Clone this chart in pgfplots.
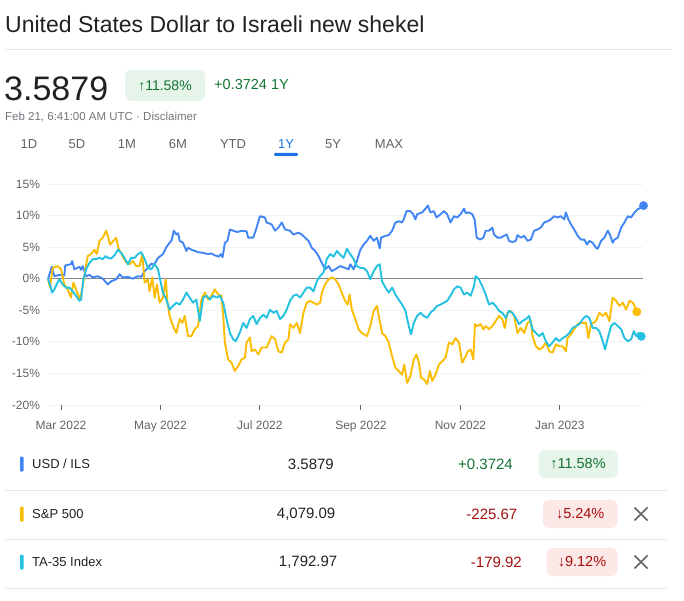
\documentclass[border=0pt]{standalone}
\usepackage{pgfplots}
\pgfplotsset{compat=1.18}
\usepackage{fontspec}
\setmainfont{Liberation Sans}
\definecolor{gblue}{HTML}{4285F4}
\definecolor{gyellow}{HTML}{FBBC04}
\definecolor{gcyan}{HTML}{24C1E0}
\definecolor{gtext}{HTML}{202124}
\definecolor{ggrey}{HTML}{5F6368}
\definecolor{glightgrey}{HTML}{70757A}
\definecolor{gline}{HTML}{E3E5E8}
\definecolor{ggrid}{HTML}{F1F3F4}
\definecolor{gzero}{HTML}{80868B}
\definecolor{ggreen}{HTML}{137333}
\definecolor{ggreenbg}{HTML}{E6F4EA}
\definecolor{gred}{HTML}{A50E0E}
\definecolor{gredbg}{HTML}{FCE8E6}
\definecolor{gtab}{HTML}{1A73E8}
\begin{document}
\begin{tikzpicture}
\useasboundingbox (0,0) rectangle (684pt,600pt);
% header
\node[anchor=base west, inner sep=0, text=gtext, font=\fontsize{23}{27}\selectfont] at (5pt,567pt) {United States Dollar to Israeli new shekel};
\draw[gline, line width=0.8pt] (5pt,551pt) -- (672pt,551pt);
\node[anchor=base west, inner sep=0, text=gtext, font=\fontsize{34}{40}\selectfont] at (4pt,499pt) {3.5879};
\fill[ggreenbg, rounded corners=6pt] (125pt,499pt) rectangle (205pt,530pt);
\node[text=ggreen, font=\fontsize{14}{16}\selectfont] at (165pt,514.5pt) {↑11.58\%};
\node[anchor=west, inner sep=0, text=ggreen, font=\fontsize{14.5}{16}\selectfont] at (214pt,515pt) {+0.3724 1Y};
\node[anchor=west, inner sep=0, text=glightgrey, font=\fontsize{11.5}{14}\selectfont] at (5pt,483pt) {Feb 21, 6:41:00 AM UTC · Disclaimer};
\foreach \lab/\xx in {1D/29,5D/77,1M/127,6M/178,YTD/233,5Y/333,MAX/389}{
  \node[text=ggrey, font=\fontsize{13}{15}\selectfont] at (\xx pt,456pt) {\lab};
}
\node[text=gtab, font=\fontsize{13}{15}\selectfont] at (286pt,456pt) {1Y};
\fill[gtab, rounded corners=1.2pt] (274pt,444pt) rectangle (298pt,447pt);

% chart
\begin{axis}[
  at={(48pt,195pt)}, anchor=south west, scale only axis,
  width=595pt, height=221pt,
  xmin=0, xmax=365, ymin=-20, ymax=15,
  axis line style={draw=none},
  ytick={-20,-15,-10,-5,0,5,10,15},
  yticklabels={-20\%,-15\%,-10\%,-5\%,0\%,5\%,10\%,15\%},
  ymajorgrids, grid style={ggrid, line width=0.9pt},
  xtick={8,69,130,192,253,314},
  xticklabels={Mar 2022,May 2022,Jul 2022,Sep 2022,Nov 2022,Jan 2023},
  tick align=outside, major tick length=4.5pt,
  xtick pos=left, ytick pos=left,
  ytick style={draw=none},
  xtick style={draw=ggrey, line width=1pt},
  ticklabel style={font=\fontsize{12}{14}\selectfont, text=ggrey},
  xticklabel style={anchor=north, yshift=-8pt, text height=8.7pt, text depth=0pt},
  clip=false,
]
\draw[gzero, line width=0.9pt] (axis cs:0,0) -- (axis cs:365,0);
\addplot[gblue, line width=1.9pt, line join=round] coordinates {
(0,0) (2.4,1.9) (3.9,0.4) (7,0.6) (10,0.5) (10.6,2.1) (14.1,2.3) (14.8,2.8) (16.2,1.5)
(19.3,1.9) (20.3,1.4) (21.3,2.0) (23.4,0.4) (25.5,0.6) (27.5,0.2) (30.5,0.4) (33.6,0)
(36.7,-0.9) (38.8,-0.4) (41.8,-0.1) (43.9,0.7) (45.9,0.2) (49,0.3) (52.1,0) (55.2,0.4)
(57.2,0.3) (59.3,1.2) (61.3,1.7) (63.4,2.4) (65,2.2) (67.5,3.3) (70.5,3.9) (72.6,5.0)
(74,5.5) (75.7,6.0) (77.2,7.6) (78.8,7.0) (79.8,7.2) (80.8,6.0) (82.8,5.7) (84.9,4.4)
(85.9,4.9) (88,4.6) (90,4.4) (92.1,4.2) (95.2,4.1) (98.2,3.9) (100.3,4.0) (102.3,3.7)
(104.8,3.5) (106,3.9) (107.1,3.4) (108.5,5.7) (110.1,6.0) (111.6,7.8) (113.6,7.6)
(116,7.4) (119,7.6) (121.8,7.5) (122.8,6.5) (125.9,6.5) (128,8.1) (130,9.9) (133.1,9.7)
(134.1,8.9) (137.2,8.6) (139.3,7.6) (141.3,8.1) (143.4,8.9) (145.4,7.8) (148.5,7.6)
(150.5,7.0) (153.6,7.3) (155.7,7.0) (157.7,6.5) (159.8,6.0) (161.8,4.9) (163.9,4.4)
(165.9,3.6) (168,2.5) (170,1.5) (172.1,2.0) (174.1,1.2) (176.2,1.5) (179.2,2.0)
(182.3,1.7) (184.4,1.5) (185.4,2.3) (187.5,1.5) (189.5,2.8) (191.6,4.6) (193.6,5.4)
(195.7,6.0) (197.7,6.8) (199.8,6.0) (201.8,6.5) (203.5,4.8) (204.3,6.5) (207,6.8)
(209,6.9) (211.1,7.6) (213.1,8.9) (215.1,9.1) (217.2,8.9) (218.2,9.4) (219.9,10.7)
(222.3,10.7) (224,10.2) (225.4,9.4) (226.4,10.2) (229.5,10.5) (231.6,11.1) (233,11.6)
(234.6,10.5) (236.7,10.7) (238.3,9.7) (240.8,10.2) (242.8,10.7) (244.9,10.2) (246.9,8.9)
(249,9.9) (251,9.7) (253.1,10.2) (255.2,11.1) (256.2,10.4) (258.2,10.5) (260.3,10.2)
(261.7,9.4) (263,6.5) (265,6.2) (267.1,6.5) (268.5,7.6) (270.5,7.6) (272.6,8.1)
(273.6,7.0) (275.7,6.5) (277.7,6.5) (279.8,6.8) (281.4,7.0) (282.8,6.0) (284.9,5.8)
(286.9,6.0) (288,6.9) (290,6.5) (292.1,6.8) (294.1,6.0) (296.2,6.2) (298.2,7.6)
(300.3,7.8) (302.3,8.1) (304.4,8.9) (306.4,9.1) (308.5,9.4) (310.5,9.9) (312.6,9.7)
(314.6,9.9) (316.7,9.4) (317.7,10.5) (319.2,9.4) (320.8,8.6) (322.8,7.8) (324.9,6.8)
(326.9,6.2) (329,6.2) (330.6,5.4) (332.1,6.0) (334.1,5.7) (336.2,4.9) (337.2,4.75)
(339.3,6.0) (341.3,6.5) (343.4,7.6) (345,6.8) (346.4,5.7) (347.5,6.2) (349.5,6.5)
(351.6,8.1) (353.6,8.9) (355.7,9.9) (357.7,9.7) (359.8,10.5) (361.8,11.0) (363.9,11.3)
(365.3,11.58)
};
\addplot[gyellow, line width=1.9pt, line join=round] coordinates {
(0,0) (1.2,-1.4) (2.9,1.7) (5.9,2.0) (8,1.5) (10,-0.9) (12.1,-1.7) (14.1,-3.0) (15.6,-0.6)
(17.6,-2.0) (19.7,-3.3) (21.7,-0.6) (22.9,1.5) (24.4,3.6) (26.4,3.9) (28.5,4.6) (29.9,3.9)
(31.6,6.0) (33.6,6.5) (35.7,7.6) (36.7,6.8) (38.1,5.4) (39.8,5.9) (41.8,6.5) (43.5,4.6)
(44.9,4.1) (46.3,3.3) (48,2.6) (50,2.3) (52.1,2.8) (54.1,2.0) (56.2,2.0) (57.8,3.9)
(59.3,-0.6) (61.3,-0.1) (62.3,-2.0) (64,0.2) (65.4,-3.0) (66.8,-0.9) (68.5,-3.8)
(70.5,-3.0) (72.2,-0.1) (73.2,-3.5) (74.6,-5.9) (76.7,-7.5) (78.7,-8.6) (80.8,-6.4)
(82.4,-7.0) (83.9,-5.9) (85.9,-9.1) (88,-9.1) (90,-8.0) (92.1,-7.5) (94.1,-3.3)
(96.2,-2.2) (98.2,-3.3) (100.3,-2.7) (102.3,-1.7) (104.4,-2.5) (106.4,-2.7) (107.5,-5.9)
(108.5,-10.1) (110.5,-12.8) (112.6,-13.3) (114.6,-14.6) (116.7,-13.8) (118.7,-12.8)
(120.8,-12.5) (121.8,-10.1) (123.9,-9.3) (124.9,-11.5) (126.9,-11.2) (129,-12.0)
(131,-10.9) (134.1,-10.9) (137.2,-9.1) (139.3,-9.6) (141.3,-11.5) (143.4,-11.7)
(145.4,-10.1) (147.5,-9.6) (148.5,-7.2) (150.5,-7.8) (152.6,-7.0) (154.6,-8.6)
(156.7,-5.4) (158.7,-3.8) (160.8,-3.5) (162.8,-3.8) (164.9,-4.1) (167,-3.8) (168,-2.2)
(170,-0.9) (172.1,-0.1) (174.1,0.2) (176.2,-0.1) (178.2,-0.9) (180.3,-2.3) (182.3,-3.5)
(183.8,-4.1) (185,-2.5) (186.4,-4.9) (188.5,-6.4) (190.5,-8.0) (192.6,-8.6) (195.7,-9.1)
(197.7,-7.5) (199.8,-5.1) (201.8,-4.3) (203.5,-6.7) (204.9,-8.6) (207,-9.1) (209,-10.1)
(211.1,-12.3) (213.1,-14.1) (215.1,-14.6) (217.2,-15.2) (218.6,-13.6) (220.3,-16.5)
(222.3,-15.4) (224.4,-12.8) (226,-12.0) (227.5,-13.3) (228.9,-15.7) (230.9,-16.0)
(232.6,-16.7) (234.2,-14.6) (235.7,-16.2) (237.7,-15.2) (239.8,-13.6) (241.8,-13.1)
(243.9,-12.5) (245.9,-10.1) (248,-10.4) (250,-9.4) (252.1,-10.1) (254.1,-13.3)
(256.2,-12.3) (257.6,-11.5) (259.3,-11.2) (260.9,-12.8) (261.9,-7.2) (263.4,-7.5)
(265.4,-7.2) (267.1,-8.0) (268.5,-7.5) (270.5,-8.0) (272.6,-7.5) (274.6,-6.7)
(276.7,-5.9) (278.7,-6.4) (280.2,-7.8) (281.8,-5.4) (283.9,-5.1) (285.9,-5.9)
(288,-8.6) (290,-7.8) (292.1,-8.6) (294.1,-7.0) (296.2,-6.7) (297.2,-9.1) (299.3,-10.7)
(301.3,-11.2) (303.4,-10.9) (305.4,-10.1) (307.5,-11.5) (309.5,-11.7) (311.6,-10.4)
(313.6,-10.7) (315.7,-10.7) (317.7,-11.5) (318.7,-9.4) (320.8,-8.8) (322.8,-8.0)
(324.9,-7.2) (326.9,-7.0) (330,-7.0) (331.5,-9.4) (333.1,-7.2) (336.2,-6.7) (338.2,-5.4)
(340.3,-5.9) (342.3,-5.4) (344.4,-6.7) (346.4,-3.0) (348.5,-3.5) (350.5,-4.3)
(352.6,-3.8) (354.6,-4.9) (356.7,-3.5) (358.7,-3.8) (359.8,-4.3) (361.2,-5.24)
};
\addplot[gcyan, line width=1.9pt, line join=round] coordinates {
(0,0) (1.2,-0.9) (2.4,-2.2) (3.9,-1.7) (5.3,-0.9) (6.9,-0.1) (9,-0.9) (11,-1.4) (13.1,-1.4)
(15.2,-2.0) (17.2,-2.7) (19.3,-3.5) (20.3,-3.3) (21.7,-0.1) (23.4,1.5) (25.4,2.5)
(27.5,3.1) (29.5,3.1) (31.6,3.3) (33.6,3.1) (35.3,3.6) (36.7,3.3) (38.7,3.2) (40.8,3.7)
(42.9,4.6) (44.9,4.1) (46.9,3.3) (49,2.3) (51,3.3) (53.1,3.3) (55.2,3.9) (57.2,4.2)
(59.3,3.1) (61.3,1.7) (63.4,1.5) (65.4,2.3) (67.5,1.5) (68.5,0.2) (70.5,-2.2) (72.6,-3.3)
(74.6,-4.9) (76.7,-4.3) (78.7,-3.8) (80.8,-4.1) (82.8,-3.3) (84.9,-2.2) (86.9,-3.0)
(89,-3.8) (91,-3.3) (93.1,-6.7) (95.2,-3.0) (97.2,-2.7) (99.3,-3.3) (101.3,-2.7)
(103.4,-3.0) (105.4,-2.7) (107.5,-3.8) (109.5,-6.4) (111.6,-8.6) (113.6,-9.6)
(115.2,-9.9) (117.7,-8.5) (119.8,-7.0) (121.8,-7.8) (123.9,-6.4) (125.9,-5.9) (128,-7.2)
(130,-6.2) (132.1,-5.7) (134.1,-6.2) (136.2,-4.9) (138.2,-5.4) (140.3,-5.1) (142.3,-6.4)
(144.4,-5.9) (146.4,-4.9) (148.5,-3.5) (150.5,-2.7) (152.6,-2.5) (154.6,-3.0)
(156.7,-2.2) (158.7,-1.4) (160.8,-1.4) (162.8,-2.0) (164.9,-0.4) (166.9,0.4) (169,1.0)
(171,3.1) (173.1,3.9) (175.2,3.5) (177.2,4.4) (179.3,3.8) (181.3,3.3) (183.4,4.75)
(185.4,3.9) (187.5,3.1) (189.5,2.0) (191.6,1.7) (193.6,1.7) (195.7,1.2) (197.7,-0.1)
(199.8,1.2) (201.8,2.0) (203.5,2.3) (204.9,-0.4) (207,-1.4) (209,-2.2) (211.1,-1.4)
(213.1,-2.5) (215.1,-3.3) (217.2,-4.1) (219.3,-5.1) (221.3,-7.5) (222.7,-8.8)
(224.4,-7.0) (226.4,-5.9) (228.5,-5.4) (230.5,-5.9) (232.6,-6.2) (234.6,-5.4)
(236.7,-4.9) (238.7,-4.3) (240.8,-4.1) (242.8,-3.8) (244.9,-3.5) (246.9,-2.7) (249,-1.7)
(251,-1.2) (253.1,-1.4) (255.2,-2.5) (257.2,-2.2) (259.3,-2.7) (261.3,-1.2) (262.3,0.4)
(264.4,-0.1) (266.4,-1.2) (268.5,-2.5) (270.5,-4.1) (272.6,-3.8) (274.6,-4.3)
(276.7,-5.1) (278.7,-5.4) (280.8,-6.2) (282.8,-5.1) (284.9,-5.4) (286.9,-6.2) (289,-7.2)
(291,-6.7) (293.1,-6.4) (295.2,-5.9) (297.2,-8.0) (299.3,-8.6) (301.3,-9.1) (303.4,-8.6)
(305.4,-9.9) (307.5,-10.7) (309.5,-10.1) (311.6,-9.4) (313.6,-9.9) (315.7,-9.4)
(317.7,-9.1) (319.8,-8.6) (321.8,-7.8) (323.9,-7.5) (325.9,-7.2) (328,-6.4) (330,-5.9)
(332.1,-6.2) (334.1,-7.8) (336.2,-7.8) (338.2,-8.3) (340.3,-9.9) (341.7,-11.2)
(343.4,-9.4) (345.4,-7.5) (347.5,-7.0) (349.5,-7.5) (351.6,-8.0) (353.6,-9.4)
(355.7,-9.9) (357.7,-9.6) (359.4,-8.3) (360.8,-9.1) (362.2,-8.6) (363.9,-9.12)
};
\addplot[only marks, mark=*, mark size=4.2pt, gblue] coordinates {(365.3,11.58)};
\addplot[only marks, mark=*, mark size=4.2pt, gyellow] coordinates {(361.2,-5.24)};
\addplot[only marks, mark=*, mark size=4.2pt, gcyan] coordinates {(363.9,-9.12)};
\end{axis}

% table
\foreach \yy in {110,61,12}{
  \draw[gline, line width=1pt] (5pt,\yy pt) -- (667pt,\yy pt);
}
% row 1
\fill[gblue, rounded corners=1pt] (20pt,128.5pt) rectangle (23.5pt,143.5pt);
\node[anchor=west, inner sep=0, text=gtext, font=\fontsize{13}{15}\selectfont] at (32pt,136pt) {USD / ILS};
\node[anchor=east, inner sep=0, text=gtext, font=\fontsize{15}{17}\selectfont] at (334pt,136pt) {3.5879};
\node[anchor=east, inner sep=0, text=ggreen, font=\fontsize{15}{17}\selectfont] at (513pt,136pt) {+0.3724};
\fill[ggreenbg, rounded corners=6pt] (538.5pt,122pt) rectangle (617.5pt,150pt);
\node[text=ggreen, font=\fontsize{14.5}{17}\selectfont] at (578pt,136pt) {↑11.58\%};
% row 2
\fill[gyellow, rounded corners=1pt] (20pt,78.5pt) rectangle (23.5pt,93.5pt);
\node[anchor=west, inner sep=0, text=gtext, font=\fontsize{13}{15}\selectfont] at (32pt,86pt) {S\&P 500};
\node[anchor=east, inner sep=0, text=gtext, font=\fontsize{15}{17}\selectfont] at (335.5pt,86pt) {4,079.09};
\node[anchor=east, inner sep=0, text=gred, font=\fontsize{15}{17}\selectfont] at (517.5pt,86pt) {-225.67};
\fill[gredbg, rounded corners=6pt] (543pt,72pt) rectangle (617.5pt,100pt);
\node[text=gred, font=\fontsize{14.5}{17}\selectfont] at (580.2pt,86pt) {↓5.24\%};
\draw[ggrey, line width=1.6pt] (634.5pt,79.5pt) -- (647.5pt,92.5pt) (634.5pt,92.5pt) -- (647.5pt,79.5pt);
% row 3
\fill[gcyan, rounded corners=1pt] (20pt,30.5pt) rectangle (23.5pt,45.5pt);
\node[anchor=west, inner sep=0, text=gtext, font=\fontsize{13}{15}\selectfont] at (32pt,38pt) {TA-35 Index};
\node[anchor=east, inner sep=0, text=gtext, font=\fontsize{15}{17}\selectfont] at (337.5pt,38pt) {1,792.97};
\node[anchor=east, inner sep=0, text=gred, font=\fontsize{15}{17}\selectfont] at (522pt,38pt) {-179.92};
\fill[gredbg, rounded corners=6pt] (546.5pt,24pt) rectangle (617.5pt,52pt);
\node[text=gred, font=\fontsize{14.5}{17}\selectfont] at (582pt,38pt) {↓9.12\%};
\draw[ggrey, line width=1.6pt] (634.5pt,31.5pt) -- (647.5pt,44.5pt) (634.5pt,44.5pt) -- (647.5pt,31.5pt);
\end{tikzpicture}
\end{document}
